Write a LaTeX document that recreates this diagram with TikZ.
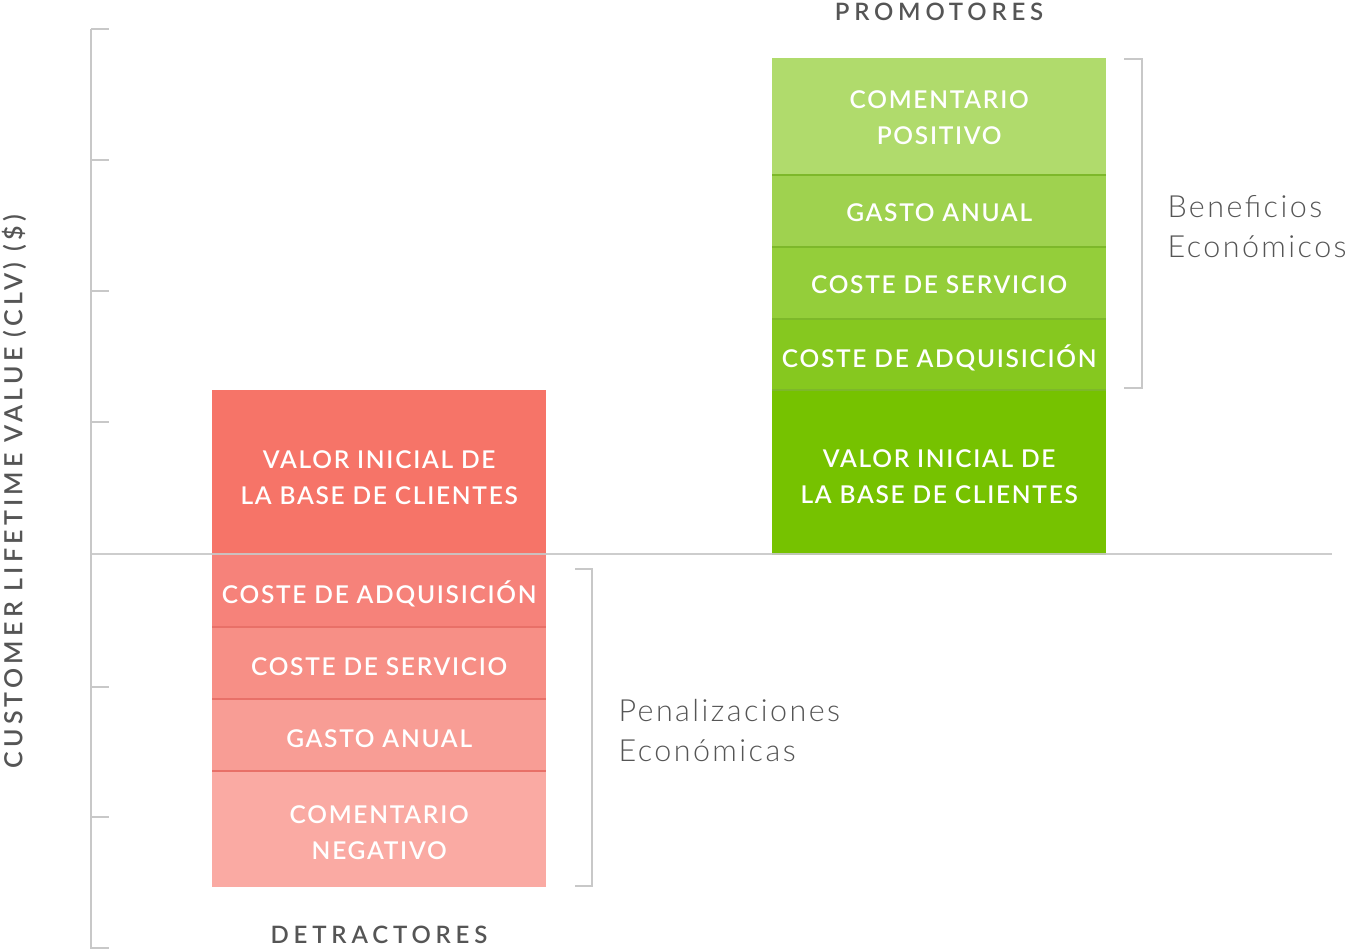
\documentclass[tikz,border=0pt]{standalone}
\usepackage{fontspec}
\setmainfont{Lato}
\newfontfamily\capsfont[LetterSpace=7,UprightFont=* Semibold]{Lato}
\newfontfamily\headfont[LetterSpace=20,UprightFont=* Semibold]{Lato}
\newfontfamily\ylabfont[LetterSpace=17,UprightFont=* Semibold]{Lato}
\newfontfamily\bodyfont[LetterSpace=8,UprightFont=* Light]{Lato}
\definecolor{axisgray}{HTML}{C8C8C8}
\definecolor{labgray}{HTML}{555555}
\definecolor{rA}{HTML}{F67468}
\definecolor{rB}{HTML}{F6827A}
\definecolor{rC}{HTML}{F78F86}
\definecolor{rD}{HTML}{F89D95}
\definecolor{rE}{HTML}{FAAAA3}
\definecolor{rLine}{HTML}{E87068}
\definecolor{gA}{HTML}{76C200}
\definecolor{gB}{HTML}{86C81F}
\definecolor{gC}{HTML}{94CE3A}
\definecolor{gD}{HTML}{9FD24F}
\definecolor{gE}{HTML}{B0DB6C}
\definecolor{gLine}{HTML}{7DB82A}
\begin{document}
\begin{tikzpicture}[x=1pt,y=-1pt,
  seg/.style={rectangle,anchor=north west,inner sep=0pt,minimum width=334pt},
  lab/.style={inner sep=0pt,text=white,align=center,yshift=-3pt,
     font=\capsfont\fontsize{24.5}{36}\selectfont},
  axisline/.style={draw=axisgray,line width=1.6pt},
  brk/.style={draw=axisgray,line width=1.6pt},
  head/.style={text=labgray,font=\headfont\fontsize{24}{28}\selectfont},
  body/.style={text=labgray,anchor=west,align=left,font=\bodyfont\fontsize{30.5}{40}\selectfont}]
\useasboundingbox (0,0) rectangle (1352,950);
% axis
\coordinate (atop) at (91,29);
\coordinate (abot) at (91,949);
\coordinate (bl) at (91,554);
\coordinate (br) at (1332,554);
\draw[axisline] (atop) -- (abot);
\foreach \y in {29,160,291,422,687,817,948}{\draw[axisline] (91,\y) -- (109,\y);}
% red bar
\node[seg,fill=rA,minimum height=164pt] (r1) at (212,390) {};
\node[seg,fill=rB,minimum height=73pt] (r2) at (212,554) {};
\node[seg,fill=rC,minimum height=72pt] (r3) at (212,627) {};
\node[seg,fill=rD,minimum height=72pt] (r4) at (212,699) {};
\node[seg,fill=rE,minimum height=116pt] (r5) at (212,771) {};
\foreach \b in {r3,r4,r5}{\draw[rLine,line width=1.5pt] (\b.north west) -- (\b.north east);}
\node[lab,yshift=-2pt] (r1t) at (r1.center) {VALOR INICIAL DE\\LA BASE DE CLIENTES};
\node[lab] (r2t) at (r2.center) {COSTE DE ADQUISICIÓN};
\node[lab] (r3t) at (r3.center) {COSTE DE SERVICIO};
\node[lab] (r4t) at (r4.center) {GASTO ANUAL};
\node[lab] (r5t) at (r5.center) {COMENTARIO\\NEGATIVO};
% green bar
\node[seg,fill=gE,minimum height=117pt] (g5) at (772,58) {};
\node[seg,fill=gD,minimum height=72pt] (g4) at (772,175) {};
\node[seg,fill=gC,minimum height=72pt] (g3) at (772,247) {};
\node[seg,fill=gB,minimum height=71pt] (g2) at (772,319) {};
\node[seg,fill=gA,minimum height=165pt] (g1) at (772,390) {};
\foreach \b in {g4,g3,g2,g1}{\draw[gLine,line width=1.5pt] (\b.north west) -- (\b.north east);}
\node[lab,yshift=2pt] (g5t) at (g5.center) {COMENTARIO\\POSITIVO};
\node[lab,yshift=2pt] (g4t) at (g4.center) {GASTO ANUAL};
\node[lab,yshift=2pt] (g3t) at (g3.center) {COSTE DE SERVICIO};
\node[lab] (g2t) at (g2.center) {COSTE DE ADQUISICIÓN};
\node[lab,yshift=-1pt] (g1t) at (g1.center) {VALOR INICIAL DE\\LA BASE DE CLIENTES};
% baseline
\draw[draw=axisgray,line width=1.6pt,opacity=0.9] (bl) -- (br);
% brackets
\coordinate (gb1) at (1124,59);
\coordinate (gb2) at (1124,388);
\draw[brk] (gb1) -| (1142,388) -- (gb2);
\coordinate (rb1) at (575,569);
\coordinate (rb2) at (575,886);
\draw[brk] (rb1) -| (592,886) -- (rb2);
% labels
\node[head] (prom) at (939,12) {PROMOTORES};
\node[head] (detr) at (379,935) {DETRACTORES};
\node[body] (ben) at (1164,227) {Beneficios\\Económicos};
\node[body] (pen) at (615,731) {Penalizaciones\\Económicas};
\node[text=labgray,rotate=90,font=\ylabfont\fontsize{25}{28}\selectfont] (ylab) at (14,492) {CUSTOMER LIFETIME VALUE (CLV) (\$)};
\end{tikzpicture}
\end{document}
